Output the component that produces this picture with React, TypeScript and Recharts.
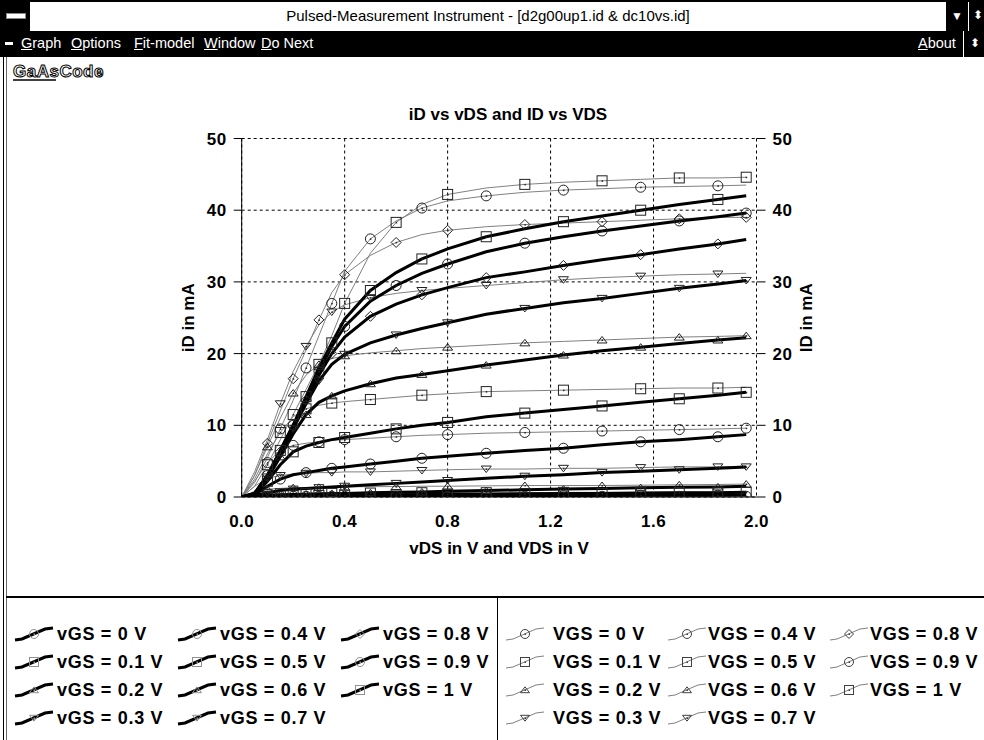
import React from 'react';
import { LineChart, Line, XAxis, YAxis, CartesianGrid } from 'recharts';

// drain voltage grid shared by every curve
const VDS = [0, 0.05, 0.1, 0.15, 0.2, 0.25, 0.3, 0.35, 0.4, 0.5, 0.6, 0.7, 0.8, 0.95, 1.1, 1.25, 1.4, 1.55, 1.7, 1.85, 1.96];
const VGS_STEPS = ['0', '0.1', '0.2', '0.3', '0.4', '0.5', '0.6', '0.7', '0.8', '0.9', '1'];
const SHAPES = ['circle', 'square', 'triUp', 'triDown', 'circle', 'square', 'triUp', 'triDown', 'diamond', 'circle', 'square'];
const X_TICKS = [0, 0.4, 0.8, 1.2, 1.6, 2.0];
const Y_TICKS = [0, 10, 20, 30, 40, 50];

// measured pulsed ID (thin grey curves), mA
const MEAS_0 = [0, 0.05, 0.1, 0.1, 0.1, 0.1, 0.1, 0.1, 0.1, 0.1, 0.1, 0.1, 0.1, 0.1, 0.1, 0.1, 0.1, 0.1, 0.1, 0.1, 0.1];
const MEAS_01 = [0, 0.3, 0.4, 0.45, 0.5, 0.5, 0.5, 0.5, 0.55, 0.55, 0.55, 0.6, 0.6, 0.6, 0.6, 0.65, 0.65, 0.65, 0.7, 0.7, 0.7];
const MEAS_02 = [0, 0.8, 1.1, 1.2, 1.3, 1.3, 1.35, 1.4, 1.4, 1.45, 1.45, 1.5, 1.5, 1.55, 1.6, 1.6, 1.6, 1.65, 1.7, 1.75, 1.8];
const MEAS_03 = [0, 1.5, 2.6, 3.0, 3.2, 3.3, 3.4, 3.4, 3.5, 3.5, 3.6, 3.7, 3.8, 3.9, 3.9, 4.0, 4.0, 4.1, 4.2, 4.2, 4.3];
const MEAS_04 = [0, 2.2, 4.8, 6.5, 7.2, 7.5, 7.7, 7.9, 8.0, 8.2, 8.4, 8.6, 8.7, 8.9, 9.0, 9.1, 9.2, 9.3, 9.4, 9.5, 9.6];
const MEAS_05 = [0, 2.5, 6.0, 9.0, 11.2, 12.3, 12.8, 13.1, 13.3, 13.6, 13.9, 14.2, 14.4, 14.7, 14.8, 14.9, 15.0, 15.1, 15.2, 15.2, 15.3];
const MEAS_06 = [0, 3.0, 7.0, 11.0, 14.5, 17.0, 18.5, 19.3, 19.7, 20.1, 20.4, 20.7, 20.9, 21.2, 21.5, 21.7, 21.9, 22.1, 22.3, 22.4, 22.5];
const MEAS_07 = [0, 3.5, 8.0, 13.0, 17.5, 21.0, 24.0, 25.8, 26.8, 27.8, 28.4, 28.8, 29.1, 29.5, 29.9, 30.3, 30.6, 30.8, 31.0, 31.1, 31.2];
const MEAS_08 = [0, 3.0, 7.5, 12.0, 16.5, 20.5, 24.7, 28.5, 31.0, 33.7, 35.5, 36.6, 37.2, 37.7, 38.0, 38.2, 38.4, 38.6, 38.8, 39.0, 39.0];
const MEAS_09 = [0, 2.0, 5.5, 9.5, 13.5, 18.0, 22.5, 27.0, 31.5, 36.0, 38.5, 40.3, 41.3, 42.0, 42.5, 42.8, 43.0, 43.2, 43.3, 43.4, 43.5];
const MEAS_1 = [0, 1.5, 4.5, 8.0, 11.5, 15.0, 18.5, 22.5, 27.0, 34.0, 38.3, 40.8, 42.2, 43.1, 43.6, 43.9, 44.1, 44.3, 44.5, 44.5, 44.6];

// model iD (thick black curves), mA
const MODEL_0 = [0, 0.02, 0.05, 0.08, 0.1, 0.1, 0.1, 0.1, 0.12, 0.12, 0.15, 0.15, 0.15, 0.2, 0.2, 0.2, 0.2, 0.25, 0.25, 0.25, 0.3];
const MODEL_01 = [0, 0.05, 0.1, 0.15, 0.2, 0.2, 0.2, 0.25, 0.25, 0.3, 0.3, 0.35, 0.4, 0.4, 0.45, 0.5, 0.5, 0.55, 0.6, 0.6, 0.65];
const MODEL_02 = [0, 0.1, 0.2, 0.3, 0.35, 0.4, 0.45, 0.5, 0.5, 0.6, 0.65, 0.7, 0.8, 0.9, 1.0, 1.1, 1.2, 1.3, 1.35, 1.4, 1.5];
const MODEL_03 = [0, 0.2, 0.6, 0.9, 1.1, 1.2, 1.3, 1.4, 1.5, 1.7, 1.9, 2.1, 2.3, 2.6, 2.9, 3.1, 3.4, 3.6, 3.8, 4.0, 4.2];
const MODEL_04 = [0, 0.3, 1.5, 2.5, 3.1, 3.4, 3.7, 4.0, 4.2, 4.6, 5.0, 5.4, 5.7, 6.1, 6.5, 6.8, 7.3, 7.7, 8.0, 8.4, 8.7];
const MODEL_05 = [0, 0.3, 2.2, 4.5, 6.3, 7.1, 7.6, 8.0, 8.3, 8.9, 9.5, 10.0, 10.4, 11.2, 11.7, 12.2, 12.7, 13.2, 13.7, 14.2, 14.6];
const MODEL_06 = [0, 0.4, 2.6, 5.6, 8.8, 11.5, 13.2, 14.1, 14.8, 15.8, 16.6, 17.1, 17.6, 18.4, 19.1, 19.8, 20.4, 20.9, 21.4, 21.9, 22.2];
const MODEL_07 = [0, 0.4, 2.8, 6.0, 9.5, 13.0, 16.2, 18.5, 19.9, 21.5, 22.6, 23.5, 24.3, 25.5, 26.3, 27.1, 27.7, 28.4, 29.1, 29.7, 30.2];
const MODEL_08 = [0, 0.5, 3.0, 6.3, 9.8, 13.5, 17.0, 20.0, 22.3, 25.2, 26.9, 28.2, 29.2, 30.6, 31.4, 32.3, 33.1, 33.8, 34.6, 35.3, 35.9];
const MODEL_09 = [0, 0.5, 3.0, 6.5, 10.0, 13.8, 17.5, 21.0, 23.8, 27.3, 29.5, 31.2, 32.5, 34.2, 35.4, 36.3, 37.1, 37.8, 38.5, 39.1, 39.6];
const MODEL_1 = [0, 0.5, 3.0, 6.5, 10.0, 14.0, 18.0, 21.5, 24.8, 28.8, 31.3, 33.2, 34.6, 36.3, 37.4, 38.4, 39.2, 40.0, 40.8, 41.5, 42.0];

const MEAS = [MEAS_0, MEAS_01, MEAS_02, MEAS_03, MEAS_04, MEAS_05, MEAS_06, MEAS_07, MEAS_08, MEAS_09, MEAS_1];
const MODEL = [MODEL_0, MODEL_01, MODEL_02, MODEL_03, MODEL_04, MODEL_05, MODEL_06, MODEL_07, MODEL_08, MODEL_09, MODEL_1];

const FONT = '"Liberation Sans", Arial, sans-serif';
const toPoints = (arr: number[]) => VDS.map((v, k) => ({ v, i: arr[k] }));

function Marker({ shape, cx, cy, s = 5, stroke = '#222', center = true }: any) {
  let body: any = null;
  if (shape === 'circle') body = <circle cx={cx} cy={cy} r={s} />;
  else if (shape === 'square') body = <rect x={cx - s} y={cy - s} width={2 * s} height={2 * s} />;
  else if (shape === 'triUp') body = <polygon points={`${cx - s},${cy + s * 0.6} ${cx + s},${cy + s * 0.6} ${cx},${cy - s * 0.7}`} />;
  else if (shape === 'triDown') body = <polygon points={`${cx - s},${cy - s * 0.6} ${cx + s},${cy - s * 0.6} ${cx},${cy + s * 0.7}`} />;
  else body = <polygon points={`${cx},${cy - s} ${cx + s},${cy} ${cx},${cy + s} ${cx - s},${cy}`} />;
  return (
    <g fill="none" stroke={stroke} strokeWidth={1}>
      {body}
      {center && <rect x={cx - 0.5} y={cy - 0.5} width={1.5} height={1.5} fill={stroke} stroke="none" />}
    </g>
  );
}

const markerDot = (shape: string, off: number) => (p: any) => {
  const k = p.index;
  if (k < 2 || (k + off) % 2 !== 0 || p.cx == null) return <g key={`m${k}`} />;
  return <Marker key={`m${k}`} shape={shape} cx={p.cx} cy={p.cy} />;
};

const tickStyle = { fontFamily: FONT, fontSize: 17, fontWeight: 700, fill: '#000', letterSpacing: 0.5 };
const labelStyle = { fontFamily: FONT, fontSize: 17, fontWeight: 700, fill: '#000', textAnchor: 'middle' as const };

function LegendIcon({ shape, thick }: { shape: string; thick: boolean }) {
  return (
    <svg width={40} height={18} style={{ position: 'absolute', left: 0, top: -9 }}>
      <path
        d="M1 15 L8 14 L31 4 L39 3"
        fill="none"
        stroke={thick ? '#000' : '#808080'}
        strokeWidth={thick ? 3 : 1}
      />
      <Marker shape={shape} cx={20} cy={9} s={4.5} stroke={thick ? '#909090' : '#404040'} />
    </svg>
  );
}

function LegendPanel({ prefix, thick, iconX, textX }: any) {
  const rows = [634, 662, 690, 718];
  return (
    <>
      {VGS_STEPS.map((g, k) => {
        const col = Math.floor(k / 4);
        const row = k % 4;
        return (
          <div key={g} style={{ position: 'absolute', left: iconX[col], top: rows[row] }}>
            <LegendIcon shape={SHAPES[k]} thick={thick} />
            <span
              style={{
                position: 'absolute',
                left: textX[col] - iconX[col],
                top: -11,
                whiteSpace: 'nowrap',
                fontSize: 18,
                fontWeight: 700,
                letterSpacing: 0.7,
                lineHeight: '22px',
              }}
            >
              {`${prefix} = ${g} V`}
            </span>
          </div>
        );
      })}
    </>
  );
}

function MenuItem({ x, first, rest }: { x: number; first: string; rest: string }) {
  return (
    <span style={{ position: 'absolute', left: x, top: 4, color: '#fff', fontSize: 14.5, whiteSpace: 'nowrap' }}>
      <span style={{ textDecoration: 'underline' }}>{first}</span>
      {rest}
    </span>
  );
}

export default function App() {
  return (
    <div
      style={{
        position: 'absolute',
        left: 0,
        top: 0,
        width: 984,
        height: 740,
        overflow: 'hidden',
        background: '#fff',
        fontFamily: FONT,
        color: '#000',
      }}
    >
      {/* title bar */}
      <div style={{ position: 'absolute', left: 0, top: 0, width: 984, height: 31, borderTop: '2px solid #000', boxSizing: 'border-box' }}>
        <div style={{ position: 'absolute', left: 0, top: 0, width: 30, height: 29, background: '#000' }}>
          <div style={{ position: 'absolute', left: 6, top: 11, width: 18, height: 4, background: '#fff', border: '1px solid #888' }} />
        </div>
        <div style={{ position: 'absolute', left: 30, right: 38, top: 5, textAlign: 'center', fontSize: 15, whiteSpace: 'nowrap' }}>
          Pulsed-Measurement Instrument - [d2g00up1.id &amp; dc10vs.id]
        </div>
        <div style={{ position: 'absolute', left: 946, top: 0, width: 38, height: 29, background: '#000', color: '#fff', fontSize: 12 }}>
          <span style={{ position: 'absolute', left: 5, top: 7 }}>▼</span>
          <div style={{ position: 'absolute', left: 22, top: 0, width: 1, height: 29, background: '#fff' }} />
          <span style={{ position: 'absolute', left: 27, top: 6 }}>⬍</span>
        </div>
      </div>

      {/* menu bar */}
      <div style={{ position: 'absolute', left: 0, top: 31, width: 984, height: 26, background: '#000' }}>
        <div style={{ position: 'absolute', left: 5, top: 11, width: 8, height: 3, background: '#fff' }} />
        <MenuItem x={21} first="G" rest="raph" />
        <MenuItem x={71} first="O" rest="ptions" />
        <MenuItem x={134} first="F" rest="it-model" />
        <MenuItem x={204} first="W" rest="indow" />
        <MenuItem x={261} first="D" rest="o Next" />
        <MenuItem x={918} first="A" rest="bout" />
        <div style={{ position: 'absolute', left: 963, top: 0, width: 1, height: 26, background: '#fff' }} />
        <span style={{ position: 'absolute', left: 970, top: 5, color: '#fff', fontSize: 12 }}>⬍</span>
      </div>

      {/* left window frame */}
      <div style={{ position: 'absolute', left: 3, top: 57, width: 1, height: 683, background: '#000' }} />
      <div style={{ position: 'absolute', left: 6, top: 57, width: 1, height: 683, background: '#666' }} />

      {/* logo */}
      <svg width={100} height={22} style={{ position: 'absolute', left: 12, top: 61 }}>
        <text x={1} y={16} fontFamily={FONT} fontSize={17} fontWeight={700} fill="#fff" stroke="#000" strokeWidth={1} letterSpacing={0.5}>
          GaAsCode
        </text>
        <line x1={1} y1={19} x2={44} y2={19} stroke="#000" strokeWidth={1.5} />
      </svg>

      {/* chart title */}
      <div style={{ position: 'absolute', left: 508, top: 105, transform: 'translateX(-50%)', fontSize: 17, fontWeight: 700, whiteSpace: 'nowrap' }}>
        iD vs vDS and ID vs VDS
      </div>

      <div style={{ position: 'absolute', left: 0, top: 0 }}>
        <LineChart width={984} height={600} margin={{ top: 138.5, right: 128.5, bottom: 73, left: 134.3 }}>
          <CartesianGrid yAxisId="left" stroke="#000" strokeDasharray="3 3" />
          <XAxis
            dataKey="v"
            type="number"
            domain={[0, 2]}
            ticks={X_TICKS}
            tickFormatter={(v: number) => v.toFixed(1)}
            allowDataOverflow
            height={30}
            tickSize={6}
            tickLine={false}
            tickMargin={12}
            tick={tickStyle}
            axisLine={{ stroke: '#000' }}
            label={{ value: 'vDS in V and VDS in V', position: 'bottom', offset: 15, style: labelStyle }}
          />
          <YAxis
            yAxisId="left"
            domain={[0, 50]}
            ticks={Y_TICKS}
            width={107.4}
            tickSize={8}
            tickMargin={7}
            tick={tickStyle}
            tickLine={{ stroke: '#000' }}
            axisLine={{ stroke: '#000' }}
            allowDataOverflow
            label={{ value: 'iD in mA', angle: -90, position: 'center', style: labelStyle }}
          />
          <YAxis
            yAxisId="right"
            orientation="right"
            domain={[0, 50]}
            ticks={Y_TICKS}
            width={99}
            tickSize={9}
            tickMargin={7}
            tick={{ ...tickStyle, textAnchor: 'start' }}
            tickLine={{ stroke: '#000' }}
            axisLine={false}
            allowDataOverflow
            label={{ value: 'ID in mA', angle: -90, position: 'center', style: labelStyle }}
          />
          {MEAS.map((arr, s) => (
            <Line
              key={`meas${s}`}
              yAxisId="left"
              data={toPoints(arr)}
              dataKey="i"
              type="linear"
              stroke="#808080"
              strokeWidth={1}
              dot={markerDot(SHAPES[s], s % 2)}
              activeDot={false}
              isAnimationActive={false}
            />
          ))}
          {MODEL.map((arr, s) => (
            <Line
              key={`model${s}`}
              yAxisId="left"
              data={toPoints(arr)}
              dataKey="i"
              type="linear"
              stroke="#000"
              strokeWidth={3}
              dot={markerDot(SHAPES[s], (s + 1) % 2)}
              activeDot={false}
              isAnimationActive={false}
            />
          ))}
        </LineChart>
      </div>

      {/* legend frame */}
      <div style={{ position: 'absolute', left: 6, top: 596, width: 978, height: 2, background: '#000' }} />
      <div style={{ position: 'absolute', left: 497, top: 597, width: 1, height: 143, background: '#000' }} />

      <LegendPanel prefix="vGS" thick iconX={[14, 177, 340]} textX={[57, 220, 383]} />
      <LegendPanel prefix="VGS" thick={false} iconX={[505, 667, 829]} textX={[553, 708, 870]} />
    </div>
  );
}
